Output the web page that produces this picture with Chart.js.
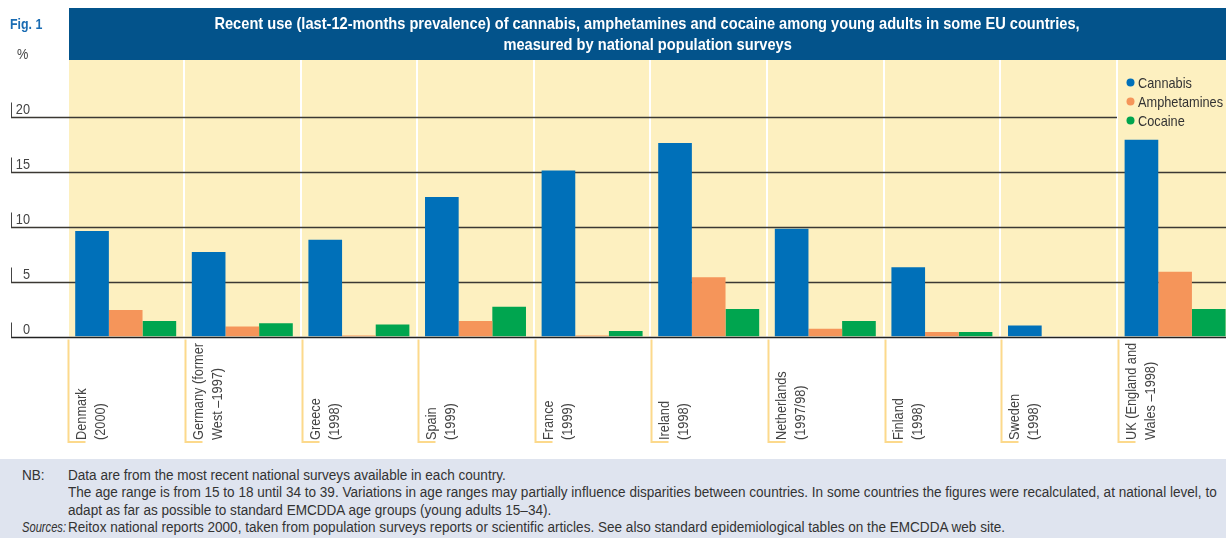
<!DOCTYPE html>
<html>
<head>
<meta charset="utf-8">
<script src="https://cdn.jsdelivr.net/npm/chart.js@4"></script>
<style>
  html, body { margin: 0; padding: 0; background: #fff; }
  body { width: 1226px; height: 538px; position: relative; overflow: hidden;
         font-family: "Liberation Sans", Arial, sans-serif; color: #333; }
  #wrap { position: absolute; left: 0; top: 0; width: 1240px; height: 538px; }
  .narrow { display: inline-block; white-space: nowrap; transform: scaleX(0.85); transform-origin: left center; }
  .fig { position: absolute; left: 10px; top: 15px; font-weight: bold; font-size: 15.5px; color: #1a6cb3; }
  .pct { position: absolute; left: 17px; top: 45px; font-size: 15px; color: #444; }
  .titlebar { position: absolute; left: 69px; top: 8px; width: 1157px; height: 52px; background: #03538b;
              color: #fff; font-weight: bold; font-size: 17px; text-align: center; line-height: 21px;
              box-sizing: border-box; padding-top: 5px; }
  .titlebar .narrow { transform: scaleX(0.86); transform-origin: center center; }
  .notes { position: absolute; left: 0; top: 459px; width: 1226px; height: 79px; background: #dfe4ef;
           font-size: 15.5px; color: #333; line-height: 17px; }
  .notes .narrow { transform: scaleX(0.875); }
  .notes .k, .notes .t { position: absolute; white-space: nowrap; }
  .notes .k { left: 22px; }
  .notes .t { left: 68px; }
</style>
</head>
<body>
<div id="wrap"><canvas id="chart" width="1240" height="538"></canvas></div>
<div class="fig"><span class="narrow" style="transform:scaleX(0.8)">Fig. 1</span></div>
<div class="pct"><span class="narrow">%</span></div>
<div class="titlebar">
  <span class="narrow">Recent use (last-12-months prevalence) of cannabis, amphetamines and cocaine among young adults in some EU countries,</span><br>
  <span class="narrow">measured by national population surveys</span>
</div>
<div class="notes">
  <span class="k" style="top:7px"><span class="narrow">NB:</span></span>
  <span class="t" style="top:7px"><span class="narrow">Data are from the most recent national surveys available in each country.</span></span>
  <span class="t" style="top:24px"><span class="narrow">The age range is from 15 to 18 until 34 to 39. Variations in age ranges may partially influence disparities between countries. In some countries the figures were recalculated, at national level, to</span></span>
  <span class="t" style="top:42px"><span class="narrow">adapt as far as possible to standard EMCDDA age groups (young adults 15–34).</span></span>
  <span class="k" style="top:59px"><span class="narrow" style="transform:scaleX(0.72)"><i>Sources:</i></span></span>
  <span class="t" style="top:59px"><span class="narrow">Reitox national reports 2000, taken from population surveys reports or scientific articles. See also standard epidemiological tables on the EMCDDA web site.</span></span>
</div>
<script>
const countries = [
  ["Denmark", "(2000)"],
  ["Germany (former", "West –1997)"],
  ["Greece", "(1998)"],
  ["Spain", "(1999)"],
  ["France", "(1999)"],
  ["Ireland", "(1998)"],
  ["Netherlands", "(1997/98)"],
  ["Finland", "(1998)"],
  ["Sweden", "(1998)"],
  ["UK (England and", "Wales –1998)"]
];
const cannabis     = [9.6, 7.7, 8.8, 12.7, 15.1, 17.6, 9.8, 6.3, 1.0, 17.9];
const amphetamines = [2.4, 0.9, 0.1, 1.4, 0.1, 5.4, 0.7, 0.4, 0, 5.9];
const cocaine      = [1.4, 1.2, 1.1, 2.7, 0.5, 2.5, 1.4, 0.4, 0, 2.5];
const yTicks = [0, 5, 10, 15, 20];

const FONT = '"Liberation Sans", Arial, sans-serif';
const SQUEEZE = 0.85;

function narrowText(ctx, text, x, y) {
  ctx.save();
  ctx.translate(x, y);
  ctx.scale(SQUEEZE, 1);
  ctx.fillText(text, 0, 0);
  ctx.restore();
}

// yellow panel with white column separators, behind the bars
const panelPlugin = {
  id: "panel",
  beforeDatasetsDraw(chart) {
    const { ctx, chartArea, scales } = chart;
    const x = scales.x, y = scales.y;
    const step = chartArea.width / countries.length;
    ctx.save();
    ctx.fillStyle = "#fdf0c0";
    ctx.fillRect(69, 60, chartArea.right - 69, chartArea.bottom - 60);
    ctx.strokeStyle = "#ffffff";
    ctx.lineWidth = 2;
    for (let i = 1; i < countries.length; i++) {
      const sx = Math.round(x.getPixelForValue(i) - step / 2);
      ctx.beginPath();
      ctx.moveTo(sx, 60);
      ctx.lineTo(sx, chartArea.bottom);
      ctx.stroke();
    }
    // grid lines reach out to the tick labels on the left
    yTicks.forEach((v) => {
      if (v === 0) return;
      const py = Math.round(y.getPixelForValue(v)) + 0.5;
      const end = v === 20 ? Math.round(x.getPixelForValue(countries.length - 1) - step / 2) : chartArea.right;
      ctx.strokeStyle = "#3b3833";
      ctx.lineWidth = 1.4;
      ctx.beginPath();
      ctx.moveTo(11, py);
      ctx.lineTo(end, py);
      ctx.stroke();
    });
    ctx.restore();
  },
  afterDatasetsDraw(chart) {
    const { ctx, chartArea, scales } = chart;
    const x = scales.x, y = scales.y;
    const step = chartArea.width / countries.length;
    ctx.save();
    // zero line
    const py0 = Math.round(y.getPixelForValue(0)) + 0.5;
    ctx.strokeStyle = "#222";
    ctx.lineWidth = 1.5;
    ctx.beginPath();
    ctx.moveTo(11, py0);
    ctx.lineTo(chartArea.right, py0);
    ctx.stroke();

    // tick marks and labels
    ctx.font = "15px " + FONT;
    ctx.fillStyle = "#444";
    ctx.textAlign = "right";
    ctx.textBaseline = "alphabetic";
    yTicks.forEach((v) => {
      const py = Math.round(y.getPixelForValue(v)) + 0.5;
      ctx.strokeStyle = "#444";
      ctx.lineWidth = 1;
      ctx.beginPath();
      ctx.moveTo(11.5, py);
      ctx.lineTo(11.5, py - 15);
      ctx.stroke();
      narrowText(ctx, String(v), 30, py - 4);
    });

    // category labels with bracket lines
    ctx.textAlign = "left";
    countries.forEach((lines, i) => {
      const lx = Math.round(x.getPixelForValue(i) - step / 2) + 1.5;
      ctx.strokeStyle = "#fcd98c";
      ctx.lineWidth = 2;
      ctx.beginPath();
      ctx.moveTo(lx, py0 + 2);
      ctx.lineTo(lx, 442);
      ctx.lineTo(lx + 17, 442);
      ctx.stroke();
      ctx.save();
      ctx.translate(lx, 440);
      ctx.rotate(-Math.PI / 2);
      ctx.fillStyle = "#444";
      ctx.font = "15px " + FONT;
      lines.forEach((t, j) => narrowText(ctx, t, 0, 17 + j * 19));
      ctx.restore();
    });

    // legend
    ctx.font = "15px " + FONT;
    ctx.textBaseline = "middle";
    chart.data.datasets.forEach((ds, i) => {
      const ly = 82.5 + i * 19;
      ctx.fillStyle = ds.backgroundColor;
      ctx.beginPath();
      ctx.arc(1130.5, ly, 4, 0, Math.PI * 2);
      ctx.fill();
      ctx.fillStyle = "#333";
      narrowText(ctx, ds.label, 1138, ly + 1);
    });
    ctx.restore();
  }
};

new Chart(document.getElementById("chart"), {
  type: "bar",
  data: {
    labels: countries,
    datasets: [
      { label: "Cannabis", data: cannabis, backgroundColor: "#0070b9" },
      { label: "Amphetamines", data: amphetamines, backgroundColor: "#f5955a" },
      { label: "Cocaine", data: cocaine, backgroundColor: "#00a54f" }
    ]
  },
  options: {
    responsive: false,
    animation: false,
    layout: { padding: { left: 67.4, right: 6.6, top: 61.75, bottom: 201.5 } },
    datasets: { bar: { categoryPercentage: 0.866, barPercentage: 1.0, borderWidth: 0 } },
    scales: {
      x: { display: false, offset: true },
      y: { display: false, min: 0, max: 25 }
    },
    plugins: { legend: { display: false }, tooltip: { enabled: false } }
  },
  plugins: [panelPlugin]
});
</script>
</body>
</html>
